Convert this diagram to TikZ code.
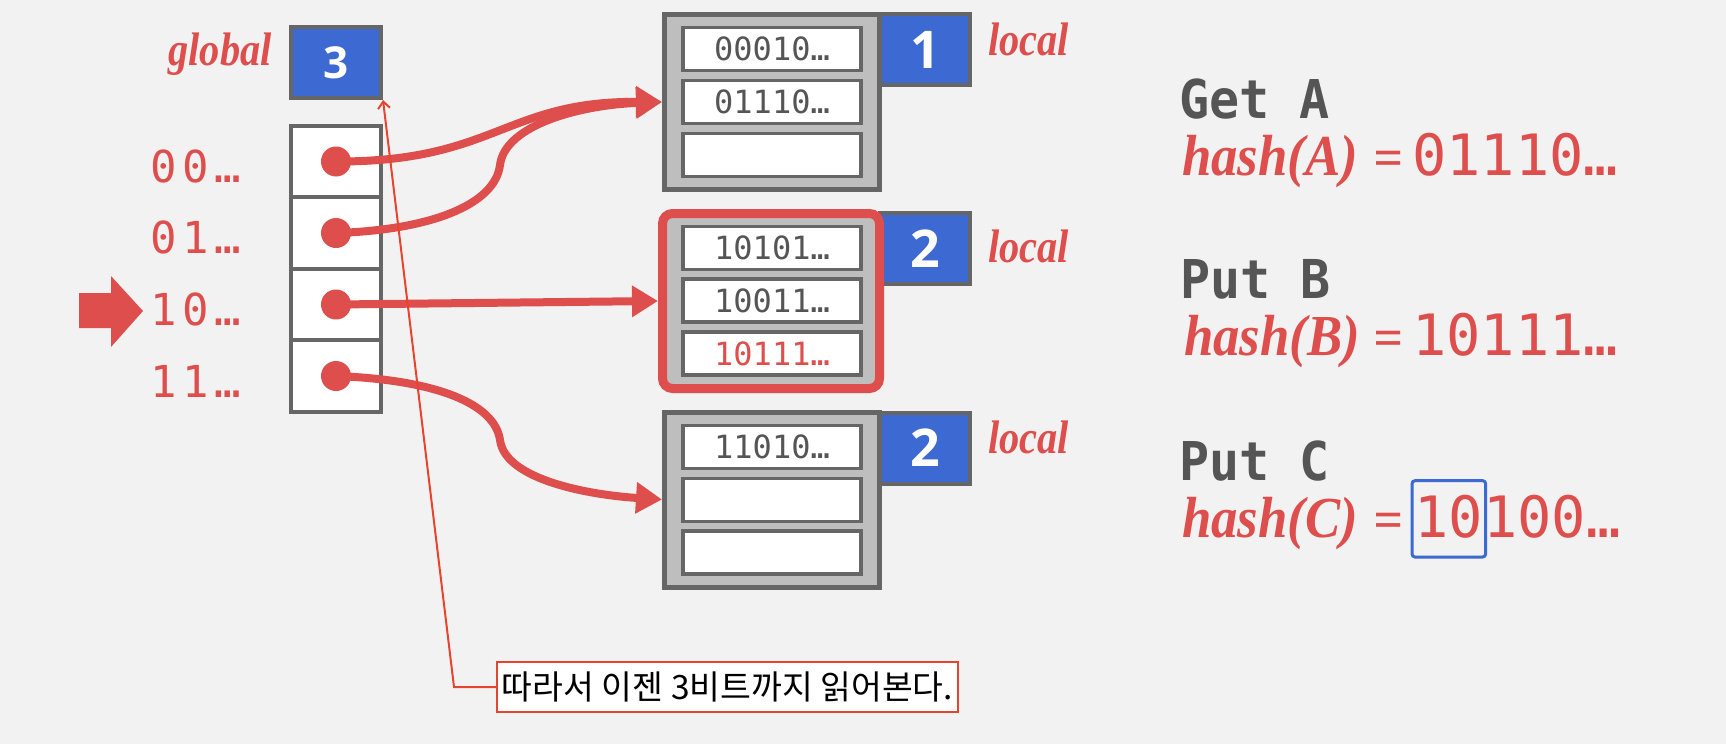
\documentclass[tikz,border=0pt]{standalone}
\usepackage{fontspec}
\usepackage{graphicx}
\setmainfont{Liberation Serif}
\newfontfamily\monof{DejaVu Sans Mono}
\newfontfamily\monofls{DejaVu Sans Mono}[LetterSpace=12.5]
\newfontfamily\numf{Open Sans}
\newfontfamily\krf{Noto Sans CJK KR}
\usetikzlibrary{arrows.meta}
\definecolor{rd}{HTML}{DD4E4C}
\definecolor{bl}{HTML}{3C69D2}
\definecolor{gr}{HTML}{666666}
\definecolor{bk}{HTML}{BEBEBE}
\definecolor{tg}{HTML}{555555}
\definecolor{an}{HTML}{E8432F}
\definecolor{bgc}{HTML}{F2F2F2}
\newcommand\condit[1]{\scalebox{0.86}[1]{#1}}
\newcommand\condh[1]{\scalebox{0.91}[1]{#1}}
\begin{document}
\begin{tikzpicture}[x=1pt,y=-1pt,
  cell/.style={draw=gr, fill=white, line width=4pt, minimum width=90pt, minimum height=71.5pt, inner sep=0pt},
  dot/.style={circle, fill=rd, minimum size=30pt, inner sep=0pt},
  gboxs/.style={draw=gr, fill=bl, line width=4pt, minimum width=90pt, minimum height=71pt, inner sep=0pt, text=white, font=\numf\bfseries\fontsize{44}{44}\selectfont},
  bucket/.style={draw=gr, fill=bk, line width=5pt, minimum width=215pt, minimum height=175pt, inner sep=0pt},
  slot/.style={draw=gr, fill=white, line width=3.5pt, minimum width=178pt, minimum height=43pt, inner sep=0pt, text=tg, font=\monof\fontsize{32}{32}\selectfont},
  lbox/.style={draw=gr, fill=bl, line width=4pt, minimum width=90pt, minimum height=71pt, inner sep=0pt, text=white, font=\numf\bfseries\fontsize{52}{52}\selectfont},
  dirlab/.style={text=rd, inner sep=0pt, anchor=base west, font=\monofls\fontsize{44}{44}\selectfont},
  italab/.style={text=rd, inner sep=0pt, font=\fontsize{47}{47}\selectfont\bfseries\itshape},
  cmd/.style={text=tg, inner sep=0pt, anchor=base west, font=\monof\bfseries\fontsize{50}{50}\selectfont},
  hashf/.style={text=rd, inner sep=0pt, anchor=base west, font=\fontsize{58}{58}\selectfont\bfseries\itshape},
  eqf/.style={text=rd, inner sep=0pt, anchor=base west, font=\fontsize{52}{52}\selectfont\bfseries\itshape},
  digf/.style={text=rd, inner sep=0pt, anchor=base west, font=\monof\fontsize{57}{57}\selectfont},
  conn/.style={draw=rd, line width=8pt, -{Triangle[length=26pt,width=30pt]}},
  annot/.style={draw=an, line width=2pt, -{Straight Barb[length=7pt,width=12pt]}},
  callout/.style={draw=an, fill=white, line width=2pt, minimum width=461pt, minimum height=50pt, inner sep=0pt}
]
\fill[bgc] (0,0) rectangle (1726,744);
\useasboundingbox (0,0) rectangle (1726,744);

% global depth
\node[gboxs] (gbox) at (336,62.5) {3};
\node[italab, anchor=base east] (glab) at (272,65) {\condit{global}};

% directory
\node[cell] (d0) at (336,161.5) {};
\node[cell] (d1) at (336,233) {};
\node[cell] (d2) at (336,304.5) {};
\node[cell] (d3) at (336,376) {};
\node[dirlab] (k0) at (150,182) {00…};
\node[dirlab] (k1) at (150,253) {01…};
\node[dirlab] (k2) at (150,325) {10…};
\node[dirlab] (k3) at (150,397) {11…};
\fill[rd] (79,293) -- (111,293) -- (111,276) -- (143,311) -- (111,347) -- (111,328) -- (79,328) -- cycle;

% buckets
\node[lbox] (l1) at (925,49.5) {1};
\node[lbox] (l2) at (925,248.5) {2};
\node[lbox] (l3) at (925,448) {2};
\node[bucket] (b1) at (772,102) {};
\node[bucket, draw=rd, line width=9pt, rounded corners=10pt, minimum width=217pt] (b2) at (771,301) {};
\node[bucket] (b3) at (772,499.5) {};
\node[slot] (s11) at (772,49) {00010…};
\node[slot] (s12) at (772,102) {01110…};
\node[slot] (s13) at (772,155) {};
\node[slot] (s21) at (772,248) {10101…};
\node[slot] (s22) at (772,300.5) {10011…};
\node[slot, text=rd] (s23) at (772,353.5) {10111…};
\node[slot] (s31) at (772,447) {11010…};
\node[slot] (s32) at (772,500) {};
\node[slot] (s33) at (772,552.5) {};
\node[italab, anchor=base west] (lo1) at (988,55) {\condit{local}};
\node[italab, anchor=base west] (lo2) at (988,262) {\condit{local}};
\node[italab, anchor=base west] (lo3) at (988,453) {\condit{local}};

% pointers
\node[dot] (p0) at (d0.center) {};
\node[dot] (p1) at (d1.center) {};
\node[dot] (p2) at (d2.center) {};
\node[dot] (p3) at (d3.center) {};
\draw[conn] (p0.center) .. controls (495,162) and (505,101) .. (b1.west);
\draw[conn] (p1.center) .. controls (430,230) and (495,205) .. (500,165) .. controls (505,125) and (580,105) .. (b1.west);
\draw[conn] (p2.center) -- (b2.west);
\draw[conn] (p3.center) .. controls (440,380) and (495,405) .. (500,440) .. controls (505,480) and (590,495) .. (b3.west);

% operations
\node[cmd] (ga) at (1179,118) {\scalebox{1}[1.07]{Get A}};
\node[hashf] (ha) at (1182,175) {\condh{hash(A)}};
\node[eqf] (ea) at (1373,175) {=};
\node[digf] (va) at (1412,175) {01110…};

\node[cmd] (pb) at (1180,298) {\scalebox{1}[1.07]{Put B}};
\node[hashf] (hb) at (1184,355) {\condh{hash(B)}};
\node[eqf] (eb) at (1373,355) {=};
\node[digf] (vb) at (1412,355) {10111…};

\node[cmd] (pc) at (1179,480) {\scalebox{1}[1.07]{Put C}};
\node[hashf] (hc) at (1182,537) {\condh{hash(C)}};
\node[eqf] (ec) at (1373,537) {=};
\node[digf, draw=bl, line width=3pt, rounded corners=3pt, inner xsep=2.5pt, inner ysep=14pt, text depth=6pt, outer sep=0pt] (vc1) at (1412,537) {10};
\node[digf] (vc2) at ([xshift=-2.5pt]vc1.base east) {100…};

% annotation
\node[callout] (note) at (727.5,687) {\krf\fontsize{33.5}{33.5}\selectfont 따라서 이젠 3비트까지 읽어본다.};
\draw[annot] (note.west) -- ++(-42,0) -- (gbox.south east);
\end{tikzpicture}
\end{document}
